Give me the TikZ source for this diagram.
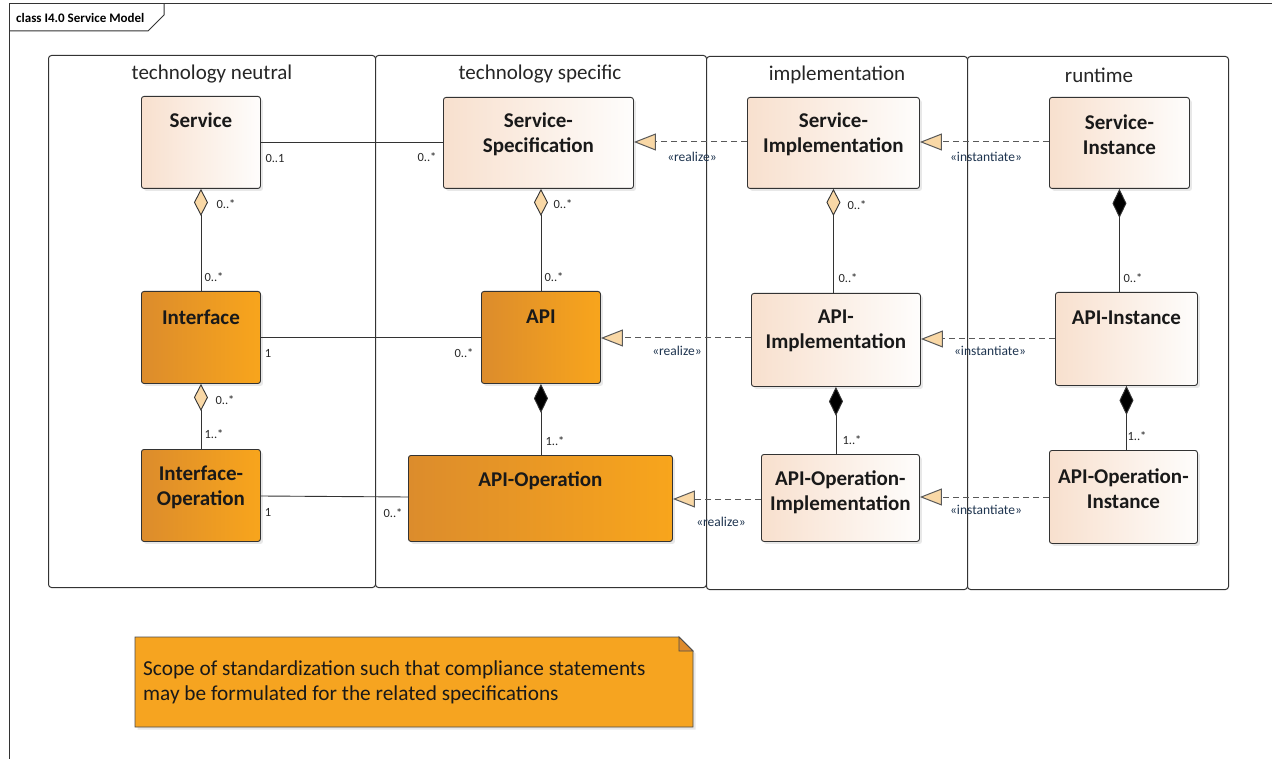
\documentclass[tikz,border=0pt]{standalone}
\usepackage{fontspec}
\setmainfont{Carlito}
\usetikzlibrary{arrows.meta,shadows,calc}
\definecolor{lightL}{HTML}{F8E0CE}
\definecolor{lightR}{HTML}{FEFDFC}
\definecolor{orL}{HTML}{DC8C2C}
\definecolor{orR}{HTML}{F8A51C}
\definecolor{notefill}{HTML}{F6A420}
\definecolor{foldfill}{HTML}{DE8A2C}
\definecolor{tipfill}{HTML}{F9D8A6}
\definecolor{stereo}{HTML}{1F3550}
\definecolor{edge}{HTML}{333333}
\tikzset{
 lane/.style={draw=edge, line width=1pt, rounded corners=3pt, fill=white},
 lanetitle/.style={font=\fontsize{21}{25}\selectfont, text=black!85, inner sep=0pt},
 lightbox/.style={draw=edge, line width=0.9pt, rounded corners=2.5pt, left color=lightL, right color=lightR, drop shadow={opacity=0.18, shadow xshift=2.5pt, shadow yshift=-2.5pt}},
 orangebox/.style={draw=edge, line width=0.9pt, rounded corners=2.5pt, left color=orL, right color=orR, drop shadow={opacity=0.18, shadow xshift=2.5pt, shadow yshift=-2.5pt}},
 boxtext/.style={font=\fontsize{21}{25}\selectfont\bfseries, align=center, inner sep=0pt, text=black!90},
 mult/.style={font=\fontsize{12.5}{15}\selectfont, inner sep=0pt, text=black!85},
 stereolbl/.style={font=\fontsize{13.5}{16}\selectfont, inner sep=0pt, text=stereo},
 assoc/.style={draw=edge, line width=0.9pt},
 aggr/.style={assoc, {Diamond[length=27pt,width=14pt,fill=tipfill]}-},
 comp/.style={assoc, {Diamond[length=29pt,width=14pt,fill=black]}-},
 realize/.style={draw=black!65, line width=1pt, dash pattern=on 6pt off 4pt, -{Triangle[length=22pt,width=17pt,fill=tipfill]}},
}
\newcommand{\rectnode}[6]{%
 \pgfmathsetmacro\rnw{#5-#3}\pgfmathsetmacro\rnh{#6-#4}%
 \node[#2, minimum width=\rnw pt, minimum height=\rnh pt, inner sep=0pt, anchor=north west] (#1) at (#3,#4) {};}
\begin{document}
\begin{tikzpicture}[x=1pt,y=-1pt]
\useasboundingbox[fill=white] (0,0) rectangle (1272,759);
% outer frame
\draw[edge, line width=1pt] (9,760) -- (9,4) -- (1273,4);
\draw[edge, line width=1pt] (9,31) -- (148,31) -- (164,15) -- (164,4);
\node[font=\fontsize{13}{15}\selectfont\bfseries, anchor=west, inner sep=0pt] (frametitle) at (16,17.5) {class I4.0 Service Model};
% lanes
\rectnode{lane1}{lane}{48}{55}{375}{587}
\rectnode{lane2}{lane}{375}{55}{706}{587}
\rectnode{lane3}{lane}{706}{56}{967}{589}
\rectnode{lane4}{lane}{967}{56}{1228}{589}
\node[lanetitle] (lane1-t) at (212,74) {technology neutral};
\node[lanetitle] (lane2-t) at (540,74) {technology specific};
\node[lanetitle] (lane3-t) at (837,75) {implementation};
\node[lanetitle] (lane4-t) at (1099,75) {runtime};
% boxes
\rectnode{svc}{lightbox}{141}{96}{260}{188}
\rectnode{spec}{lightbox}{443}{97}{633}{188}
\rectnode{simpl}{lightbox}{747}{97}{919}{188}
\rectnode{sinst}{lightbox}{1049}{97}{1189}{188}
\rectnode{iface}{orangebox}{141}{291}{260}{383}
\rectnode{api}{orangebox}{481}{291}{600}{383}
\rectnode{apiimpl}{lightbox}{751}{293}{920}{386}
\rectnode{ainst}{lightbox}{1055}{292}{1197}{385}
\rectnode{iop}{orangebox}{141}{449}{260}{541}
\rectnode{apiop}{orangebox}{408}{455}{672}{541}
\rectnode{aoimpl}{lightbox}{761}{454}{919}{541}
\rectnode{aoinst}{lightbox}{1049}{450}{1197}{543}
\node[boxtext] (svc-t) at (svc.center |- 0,120) {Service};
\node[boxtext] (spec-t) at (spec.center |- 0,134.5) {Service-\\Specification};
\node[boxtext] (simpl-t) at (simpl.center |- 0,134.5) {Service-\\Implementation};
\node[boxtext] (sinst-t) at (sinst.center |- 0,134.5) {Service-\\Instance};
\node[boxtext] (iface-t) at (iface.center |- 0,317) {Interface};
\node[boxtext] (api-t) at (api.center |- 0,317) {API};
\node[boxtext] (apiimpl-t) at (apiimpl.center |- 0,331) {API-\\Implementation};
\node[boxtext] (ainst-t) at (ainst.center |- 0,318) {API-Instance};
\node[boxtext] (iop-t) at (iop.center |- 0,487.5) {Interface-\\Operation};
\node[boxtext] (apiop-t) at (apiop.center |- 0,481) {API-Operation};
\node[boxtext] (aoimpl-t) at (aoimpl.center |- 0,492.5) {API-Operation-\\Implementation};
\node[boxtext] (aoinst-t) at (aoinst.center |- 0,488.5) {API-Operation-\\Instance};
% associations
\draw[assoc] (svc.east) -- (spec.west |- svc.east);
\draw[assoc] (iface.east) -- (api.west |- iface.east);
\draw[assoc] (iop.east |- 0,496) -- (apiop.west |- 0,497);
% aggregations / compositions
\draw[aggr] (svc.south) -- (iface.north);
\draw[aggr] (iface.south) -- (iop.north);
\draw[aggr] (spec.south -| api.north) -- (api.north);
\draw[aggr] (simpl.south) -- (simpl.south |- apiimpl.north);
\draw[comp] (sinst.south) -- (sinst.south |- ainst.north);
\draw[comp] (api.south) -- (api.south |- apiop.north);
\draw[comp] (apiimpl.south) -- (apiimpl.south |- aoimpl.north);
\draw[comp] (ainst.south) -- (ainst.south |- aoinst.north);
% realizations / instantiations
\draw[realize] (simpl.west |- 0,142) -- (spec.east |- 0,142);
\draw[realize] (sinst.west |- 0,142) -- (simpl.east |- 0,142);
\draw[realize] (apiimpl.west |- 0,338) -- (api.east |- 0,338);
\draw[realize] (ainst.west |- 0,339) -- (apiimpl.east |- 0,339);
\draw[realize] (aoimpl.west |- 0,499) -- (apiop.east |- 0,499);
\draw[realize] (aoinst.west |- 0,497) -- (aoimpl.east |- 0,497);
% stereotype labels
\node[stereolbl] (st1) at (692,157) {«realize»};
\node[stereolbl] (st2) at (986,157) {«instantiate»};
\node[stereolbl] (st3) at (677,351) {«realize»};
\node[stereolbl] (st4) at (990,351) {«instantiate»};
\node[stereolbl] (st5) at (721,522) {«realize»};
\node[stereolbl] (st6) at (986,510) {«instantiate»};
% multiplicities
\node[mult] (m1) at (275,158) {0..1};
\node[mult] (m2) at (427,157) {0..*};
\node[mult] (m3) at (226,204) {0..*};
\node[mult] (m4) at (214,277) {0..*};
\node[mult] (m5) at (563,204) {0..*};
\node[mult] (m6) at (554,277) {0..*};
\node[mult] (m7) at (857,205) {0..*};
\node[mult] (m8) at (848,278) {0..*};
\node[mult] (m9) at (1133,278) {0..*};
\node[mult] (m10) at (268,353) {1};
\node[mult] (m11) at (464,353) {0..*};
\node[mult] (m12) at (225,400) {0..*};
\node[mult] (m13) at (214,434) {1..*};
\node[mult] (m14) at (555,441) {1..*};
\node[mult] (m15) at (852,440) {1..*};
\node[mult] (m16) at (1137,436) {1..*};
\node[mult] (m17) at (268,512) {1};
\node[mult] (m18) at (393,513) {0..*};
% note
\filldraw[fill=notefill, draw=black!70, line width=0.9pt, drop shadow={opacity=0.18, shadow xshift=2.5pt, shadow yshift=-2.5pt}] (135,637) -- (679,637) -- (693,651) -- (693,727) -- (135,727) -- cycle;
\filldraw[fill=foldfill, draw=black!70, line width=0.9pt] (679,637) -- (679,651) -- (693,651) -- cycle;
\node[font=\fontsize{21.3}{25}\selectfont, align=left, anchor=west, inner sep=0pt, text=black!90] (note) at (143,682.5) {Scope of standardization such that compliance statements\\may be formulated for the related specifications};
\end{tikzpicture}
\end{document}
